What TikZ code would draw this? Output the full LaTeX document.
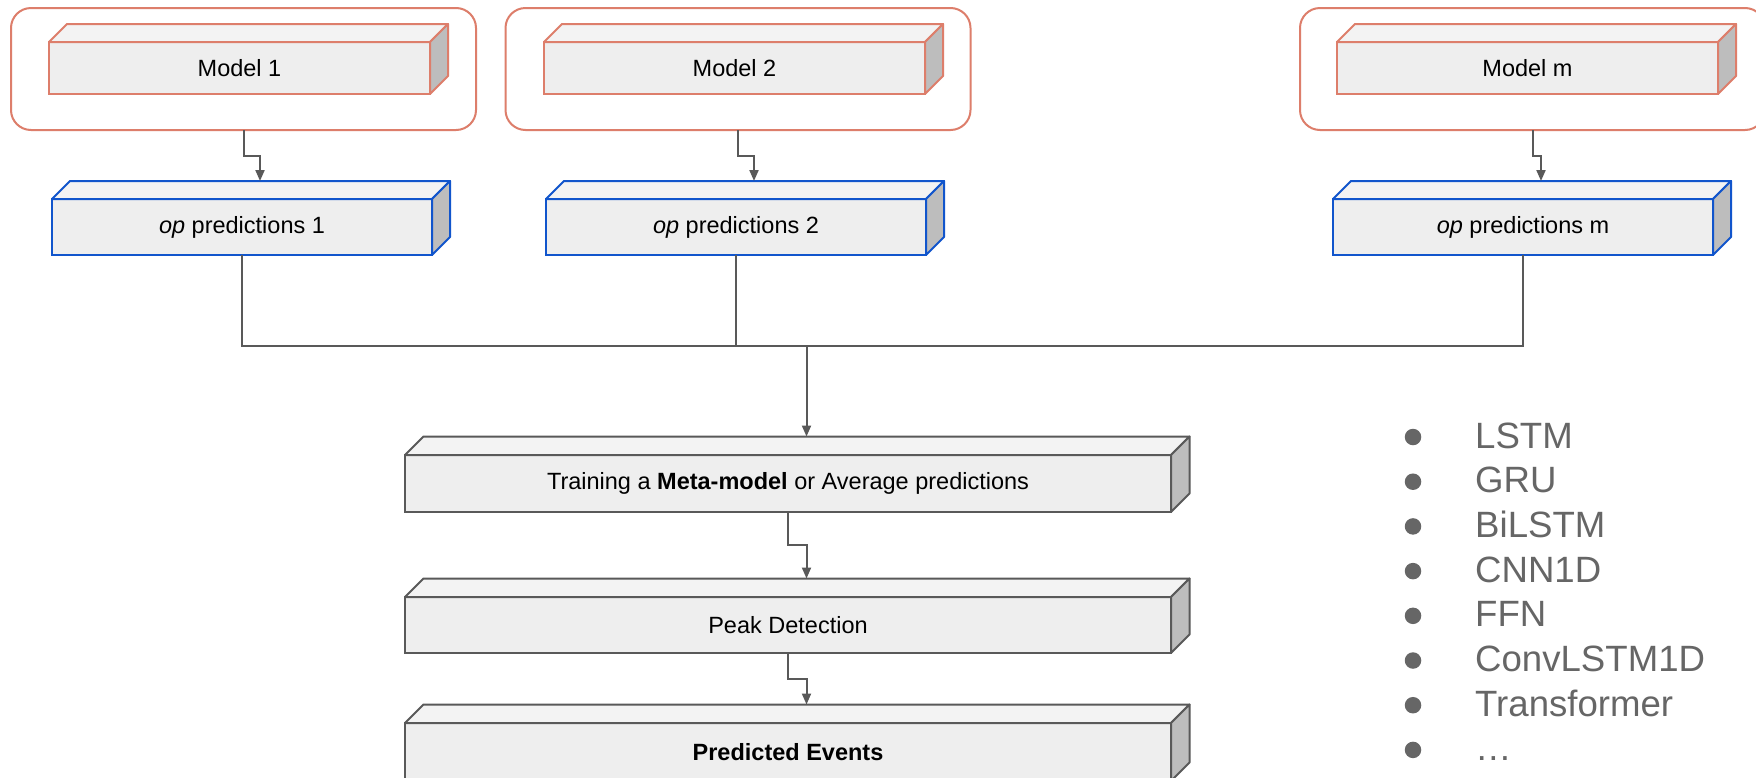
\documentclass[tikz,border=0pt]{standalone}
\usepackage{fontspec}
\setmainfont{Liberation Sans}
\usetikzlibrary{arrows.meta,calc}
\definecolor{redline}{HTML}{DD7E6B}
\definecolor{blueline}{HTML}{1155CC}
\definecolor{grayline}{HTML}{595959}
\definecolor{frontc}{HTML}{EEEEEE}
\definecolor{topc}{HTML}{F3F3F3}
\definecolor{sidec}{HTML}{BDBDBD}
\definecolor{listc}{HTML}{666666}
\tikzset{
  frontface/.style={rectangle, fill=frontc, line width=2pt, inner sep=0pt, outer sep=0pt,
    font=\fontsize{23.5pt}{28pt}\selectfont, text=black},
  faceline/.style={line width=2pt, line join=round},
  container/.style={draw=redline, line width=2pt, rounded corners=20pt, inner sep=0pt, outer sep=0pt,
    minimum width=465pt, minimum height=122pt},
  link/.style={draw=grayline, line width=2pt},
  conn/.style={link, -{Triangle[length=11pt,width=9pt]}},
  listtext/.style={font=\fontsize{36.6pt}{44pt}\selectfont, text=listc, inner sep=0pt},
  listdot/.style={circle, fill=listc, minimum size=16.5pt, inner sep=0pt}
}
\newcommand{\cubenode}[7]{%
  \node[frontface, draw=#6, minimum width=#3pt, minimum height=#4pt] (#1) at #2 {#7};
  \draw[faceline, draw=#6, fill=topc] (#1.north west) -- ++(#5,-#5) -- ([shift={(#5,-#5)}]#1.north east) -- (#1.north east) -- cycle;
  \draw[faceline, draw=#6, fill=sidec] (#1.north east) -- ([shift={(#5,-#5)}]#1.north east) -- ([shift={(#5,-#5)}]#1.south east) -- (#1.south east) -- cycle;
  \coordinate (#1-top) at ([shift={(#5,-#5)}]#1.north);
}
\begin{document}
\begin{tikzpicture}[x=1pt,y=-1pt]
\useasboundingbox (0,0) rectangle (1756,777);
\clip (0,0) rectangle (1756,777);
\fill[white] (0,0) rectangle (1756,777);

% containers
\node[container] (c1) at (243.5,69) {};
\node[container] (c2) at (738,69) {};
\node[container] (cm) at (1532.5,69) {};

% model boxes
\cubenode{m1}{(239.5,68)}{381}{52}{18}{redline}{Model 1}
\cubenode{m2}{(734.5,68)}{381}{52}{18}{redline}{Model 2}
\cubenode{mm}{(1527.5,68)}{381}{52}{18}{redline}{Model m}

% prediction boxes
\cubenode{op1}{(242,227)}{380}{56}{18}{blueline}{\textit{op} predictions 1}
\cubenode{op2}{(736,227)}{380}{56}{18}{blueline}{\textit{op} predictions 2}
\cubenode{opm}{(1523,227)}{380}{56}{18}{blueline}{\textit{op} predictions m}

% lower pipeline
\cubenode{train}{(788,483.5)}{766}{57}{18.5}{grayline}{Training a \textbf{Meta-model} or Average predictions}
\cubenode{peak}{(788,625)}{766}{56}{18.5}{grayline}{Peak Detection}
\cubenode{pred}{(788,752)}{766}{58}{18.5}{grayline}{\textbf{Predicted Events}}

% model -> predictions
\coordinate (k1) at ($(c1.south)!0.5!(op1-top)$);
\coordinate (k2) at ($(c2.south)!0.5!(op2-top)$);
\coordinate (km) at ($(cm.south)!0.5!(opm-top)$);
\draw[conn] (c1.south) |- (k1) -| (op1-top);
\draw[conn] (c2.south) |- (k2) -| (op2-top);
\draw[conn] (cm.south) |- (km) -| (opm-top);

% merge bus
\coordinate (bus) at (0,346);
\draw[link] (op1.south) |- (bus -| opm.south) -- (opm.south);
\draw[link] (op2.south) -- (op2.south |- bus);
\draw[conn] (train-top |- bus) -- (train-top);

% pipeline arrows
\coordinate (k3) at ($(train.south)!0.5!(peak-top)$);
\coordinate (k4) at ($(peak.south)!0.5!(pred-top)$);
\draw[conn] (train.south) |- (k3) -| (peak-top);
\draw[conn] (peak.south) |- (k4) -| (pred-top);

% model list
\foreach \t [count=\i from 0] in {LSTM,GRU,BiLSTM,CNN1D,FFN,ConvLSTM1D,Transformer,…}{
  \node[listdot] (d\i) at (1413,{437+44.7*\i}) {};
  \node[listtext, anchor=base west] (li\i) at (1475,{448+44.7*\i}) {\t};
}
\end{tikzpicture}
\end{document}
